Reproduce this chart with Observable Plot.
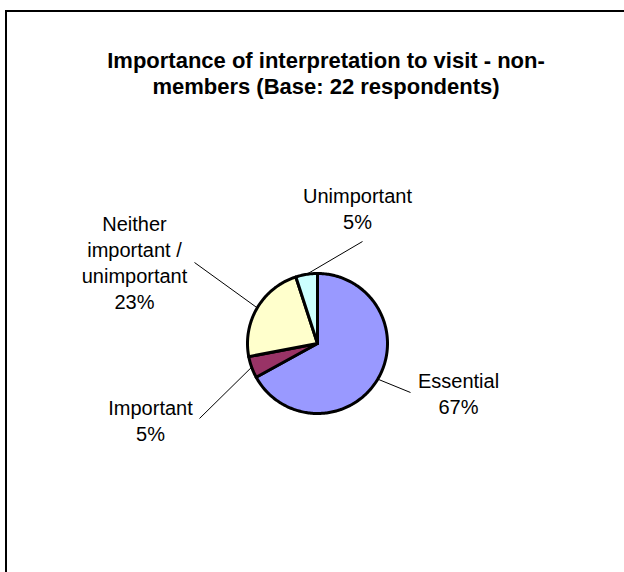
<!DOCTYPE html>
<html><head><meta charset="utf-8">
<script src="https://cdn.jsdelivr.net/npm/d3@7"></script>
<script src="https://cdn.jsdelivr.net/npm/@observablehq/plot@0.6"></script>
<style>
body{margin:0;background:#fff;width:624px;height:572px;overflow:hidden;position:relative;font-family:"Liberation Sans",Arial,sans-serif;}
#frame{position:absolute;left:5px;top:10px;width:640px;height:600px;border:2px solid #000;box-sizing:border-box;}
#title{position:absolute;left:0;top:48px;width:652px;text-align:center;font-weight:bold;font-size:22px;line-height:26px;color:#000;}
#chart{position:absolute;left:0;top:0;}
</style></head><body>
<div id="frame"></div>
<div id="title">Importance of interpretation to visit - non-<br>members (Base: 22 respondents)</div>
<div id="chart"></div>
<script>
// Data
const categories = ["Essential", "Important", "Neither important / unimportant", "Unimportant"];
const labelText = ["Essential", "Important", "Neither\nimportant /\nunimportant", "Unimportant"];
const percents = [67, 5, 23, 5];
const colors = ["#9999FF", "#993366", "#FFFFCC", "#CCFFFF"];

// Layout (pixels relative to pie centre; y downward)
const R = 70;
const cx = 317, cy = 343;
const labelCentre = [[141, 49], [-167, 76], [-183, -82], [40, -136]];
const leaderEnd = [[93, 49], [-118, 75], [-123, -81], [45, -102]];

const arcs = d3.pie().sort(null).value(d => d)(percents);
const rows = [];
arcs.forEach((a, i) => {
  rows.push({slice: categories[i], x: 0, y: 0});
  const n = Math.max(2, Math.ceil((a.endAngle - a.startAngle) / (Math.PI / 180)));
  for (let k = 0; k <= n; k++) {
    const t = a.startAngle + (a.endAngle - a.startAngle) * k / n;
    rows.push({slice: categories[i], x: R * Math.sin(t), y: -R * Math.cos(t)});
  }
});
const labels = arcs.map((a, i) => {
  const m = (a.startAngle + a.endAngle) / 2;
  return {
    text: labelText[i] + "\n" + percents[i] + "%",
    x: labelCentre[i][0], y: labelCentre[i][1],
    x1: R * Math.sin(m), y1: -R * Math.cos(m),
    x2: leaderEnd[i][0], y2: leaderEnd[i][1]
  };
});

const chart = Plot.plot({
  width: 624, height: 572,
  margin: 0,
  x: {domain: [-R, R], range: [cx - R, cx + R], axis: null},
  y: {domain: [-R, R], range: [cy - R, cy + R], axis: null},
  color: {domain: categories, range: colors},
  style: {background: "transparent", fontFamily: "'Liberation Sans', Arial, sans-serif", overflow: "visible"},
  marks: [
    Plot.link(labels, {x1: "x1", y1: "y1", x2: "x2", y2: "y2", stroke: "#000", strokeWidth: 1}),
    Plot.line(rows, {x: "x", y: "y", z: "slice", fill: "slice", stroke: "#000", strokeWidth: 3, curve: "linear-closed", strokeLinejoin: "round"}),
    Plot.text(labels, {x: "x", y: "y", text: "text", fontSize: 20, lineHeight: 1.3, textAnchor: "middle", fill: "#000"})
  ]
});
document.getElementById("chart").appendChild(chart);
</script>
</body></html>
